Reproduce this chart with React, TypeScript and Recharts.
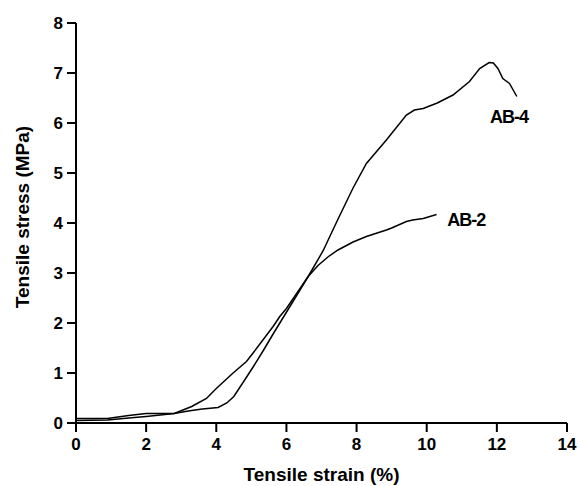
import React from "react";
import {
  LineChart,
  Line,
  XAxis,
  YAxis,
  ReferenceDot,
  Label,
} from "recharts";

// AB-4 curve (strain %, stress MPa)
const ab4Strain = [
  0, 0.9, 1.5, 2.0, 2.8, 3.2, 3.6, 4.05, 4.3, 4.5, 4.8, 5.05, 5.35, 5.62, 6.1,
  6.62, 7.05, 7.25, 7.52, 7.9, 8.28, 8.85, 9.42, 9.65, 9.9, 10.3, 10.75, 11.22,
  11.51, 11.78, 11.9, 12.03, 12.17, 12.36, 12.57,
];
const ab4Stress = [
  0.09, 0.09, 0.15, 0.19, 0.19, 0.24, 0.28, 0.31, 0.4, 0.53, 0.85, 1.12, 1.46,
  1.78, 2.33, 2.93, 3.45, 3.75, 4.15, 4.7, 5.19, 5.66, 6.16, 6.26, 6.29, 6.4,
  6.56, 6.83, 7.09, 7.21, 7.2, 7.09, 6.89, 6.79, 6.53,
];

// AB-2 curve
const ab2Strain = [
  0, 0.9, 1.5, 2.0, 2.8, 3.3, 3.72, 4.0, 4.48, 4.86, 5.05, 5.62, 5.81, 6.0,
  6.62, 6.9, 7.2, 7.47, 7.9, 8.28, 8.85, 9.0, 9.42, 9.6, 9.9, 10.28,
];
const ab2Stress = [
  0.05, 0.06, 0.1, 0.13, 0.19, 0.33, 0.49, 0.69, 1.0, 1.23, 1.4, 1.93, 2.13,
  2.29, 2.93, 3.15, 3.33, 3.46, 3.62, 3.73, 3.86, 3.9, 4.03, 4.06, 4.09, 4.17,
];

const xTicks = [0, 2, 4, 6, 8, 10, 12, 14];
const yTicks = [0, 1, 2, 3, 4, 5, 6, 7, 8];

const ab4Data = ab4Strain.map((x, i) => ({ x, y: ab4Stress[i] }));
const ab2Data = ab2Strain.map((x, i) => ({ x, y: ab2Stress[i] }));

const font = "'Liberation Sans', Arial, sans-serif";
const tickStyle = { fill: "#000", fontSize: 17, fontWeight: 700, fontFamily: font };
const seriesLabel = {
  fill: "#000",
  fontSize: 18,
  fontWeight: 700,
  letterSpacing: -1,
  fontFamily: font,
};

export default function App() {
  return (
    <div style={{ width: 578, height: 486 }}>
      <style>{"body{margin:0}"}</style>
      <LineChart
        width={578}
        height={486}
        margin={{ top: 23, right: 11, left: 0, bottom: 0 }}
      >
        <XAxis
          type="number"
          dataKey="x"
          domain={[0, 14]}
          ticks={xTicks}
          height={63}
          tick={tickStyle}
          tickSize={9}
          tickMargin={6}
          stroke="#000"
          strokeWidth={2}
          tickLine={{ stroke: "#000", strokeWidth: 2 }}
          allowDataOverflow
        >
          <Label
            value="Tensile strain (%)"
            position="insideBottom"
            offset={5}
            style={{ fill: "#000", fontSize: 19, fontWeight: 700, fontFamily: font }}
          />
        </XAxis>
        <YAxis
          type="number"
          dataKey="y"
          domain={[0, 8]}
          ticks={yTicks}
          width={76}
          tick={tickStyle}
          tickSize={9}
          tickMargin={4}
          stroke="#000"
          strokeWidth={2}
          tickLine={{ stroke: "#000", strokeWidth: 2 }}
        >
          <Label
            content={() => (
              <text
                x={29}
                y={217}
                transform="rotate(-90 29 217)"
                textAnchor="middle"
                style={{ fill: "#000", fontSize: 19, fontWeight: 700, fontFamily: font }}
              >
                Tensile stress (MPa)
              </text>
            )}
          />
        </YAxis>
        <Line
          data={ab2Data}
          dataKey="y"
          type="linear"
          stroke="#000"
          strokeWidth={1.5}
          dot={false}
          isAnimationActive={false}
        />
        <Line
          data={ab4Data}
          dataKey="y"
          type="linear"
          stroke="#000"
          strokeWidth={1.5}
          dot={false}
          isAnimationActive={false}
        />
        <ReferenceDot
          x={12.35}
          y={6.12}
          r={0}
          fill="none"
          stroke="none"
          label={{ value: "AB-4", position: "center", style: seriesLabel }}
        />
        <ReferenceDot
          x={11.13}
          y={4.06}
          r={0}
          fill="none"
          stroke="none"
          label={{ value: "AB-2", position: "center", style: seriesLabel }}
        />
      </LineChart>
    </div>
  );
}
